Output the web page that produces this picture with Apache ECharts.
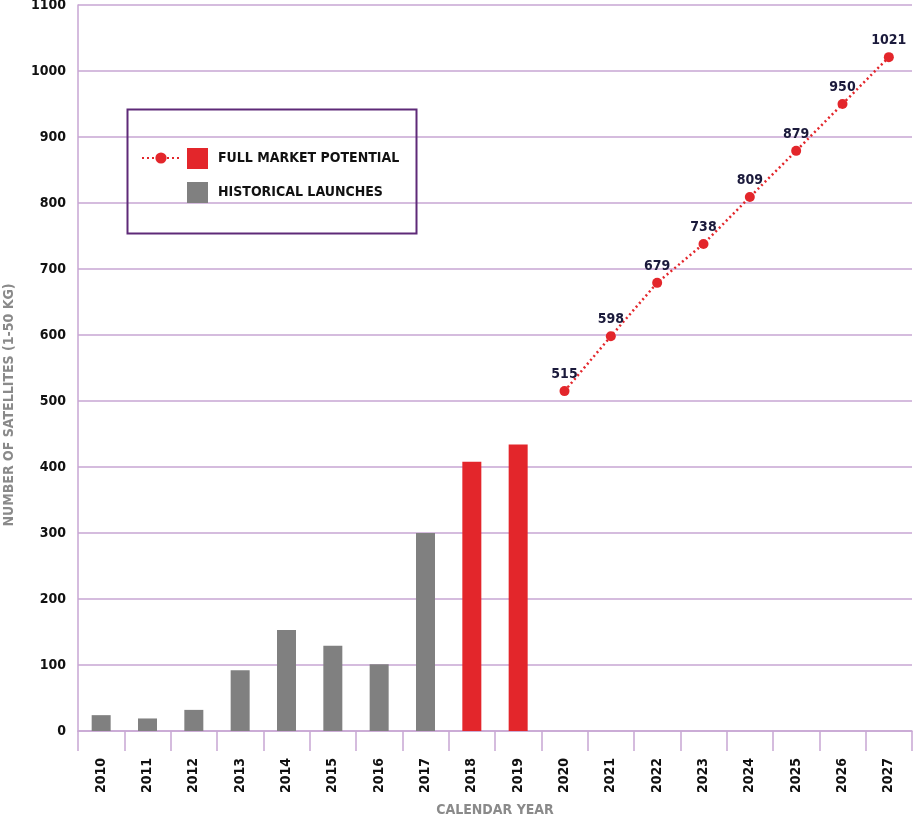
<!DOCTYPE html>
<html><head><meta charset="utf-8">
<script src="https://cdn.jsdelivr.net/npm/echarts@6/dist/echarts.min.js"></script>
<style>html,body{margin:0;padding:0;background:#fff;overflow:hidden}#c{width:913px;height:817px}</style>
</head><body><div id="c"></div>
<script>
const years = ['2010','2011','2012','2013','2014','2015','2016','2017','2018','2019','2020','2021','2022','2023','2024','2025','2026','2027'];
const historical = [24, 19, 32, 92, 153, 129, 101, 300, null, null, null, null, null, null, null, null, null, null];
const potentialBars = [null, null, null, null, null, null, null, null, 408, 434, null, null, null, null, null, null, null, null];
const potentialLine = [null, null, null, null, null, null, null, null, null, null, 515, 598, 679, 738, 809, 879, 950, 1021];
const yTicks = {min: 0, max: 1100, interval: 100};

const FONT = "'DejaVu Sans Condensed','Liberation Sans Narrow','Liberation Sans',sans-serif";
const PURPLE = '#c7a6d3';
const RED = '#e3262b';
const GRAY = '#808080';

const chart = echarts.init(document.getElementById('c'));
chart.setOption({
  animation: false,
  backgroundColor: '#fff',
  grid: {left: 78, right: 1, top: 5, bottom: 86, containLabel: false, outerBoundsMode: 'none'},
  legend: [
    {
      data: ['FULL MARKET POTENTIAL', 'HISTORICAL LAUNCHES'],
      orient: 'vertical', left: 182, top: 143,
      itemWidth: 21, itemHeight: 21, itemGap: 13,
      icon: 'rect',
      textStyle: {fontFamily: FONT, fontWeight: 'bold', fontSize: 14, color: '#111', padding: [0, 0, 0, 5]},
      selectedMode: false
    },
    {
      data: ['Full market potential trend'],
      left: 136, top: 146,
      itemWidth: 38, itemHeight: 14,
      formatter: function(){ return ''; },
      selectedMode: false
    }
  ],
  graphic: [
    {type: 'rect', left: 125, top: 107, shape: {width: 289, height: 124},
     style: {fill: 'none', stroke: '#5e2a78', lineWidth: 2}, z: 10},
    {type: 'text', x: 9, y: 405, rotation: Math.PI / 2,
     style: {text: 'NUMBER OF SATELLITES (1-50 KG)', fill: '#8a8a8a', fontFamily: FONT, fontWeight: 'bold', fontSize: 14, align: 'center', verticalAlign: 'middle'}}
  ],
  xAxis: {
    type: 'category', data: years,
    name: 'CALENDAR YEAR', nameLocation: 'middle', nameGap: 72,
    nameTextStyle: {fontFamily: FONT, fontWeight: 'bold', fontSize: 14, color: '#8a8a8a'},
    axisLine: {show: true, lineStyle: {color: PURPLE, width: 1.5}},
    axisTick: {show: true, length: 20, interval: 0, lineStyle: {color: PURPLE, width: 1.5}},
    axisLabel: {rotate: 90, interval: 0, margin: 27, fontFamily: FONT, fontWeight: 'bold', fontSize: 14, color: '#111'},
    splitLine: {show: false}
  },
  yAxis: {
    type: 'value', min: yTicks.min, max: yTicks.max, interval: yTicks.interval,
    axisLine: {show: true, lineStyle: {color: PURPLE, width: 1.5}},
    axisTick: {show: false},
    axisLabel: {margin: 12, fontFamily: FONT, fontWeight: 'bold', fontSize: 14, color: '#111',
      formatter: function(v){ return String(v); }},
    splitLine: {show: true, lineStyle: {color: PURPLE, width: 1.5}}
  },
  series: [
    {name: 'FULL MARKET POTENTIAL', type: 'bar', stack: 's', data: potentialBars, barWidth: 19,
     itemStyle: {color: RED}},
    {name: 'HISTORICAL LAUNCHES', type: 'bar', stack: 's', data: historical, barWidth: 19,
     itemStyle: {color: GRAY}},
    {name: 'Full market potential trend', type: 'line', data: potentialLine,
     symbol: 'circle', symbolSize: 10, connectNulls: false,
     lineStyle: {color: RED, width: 2.5, type: [2, 3]},
     itemStyle: {color: RED},
     label: {show: true, position: 'top', distance: 5, fontFamily: FONT, fontWeight: 'bold', fontSize: 14, color: '#1b1a3b'},
     z: 5}
  ]
});
</script>
</body></html>
